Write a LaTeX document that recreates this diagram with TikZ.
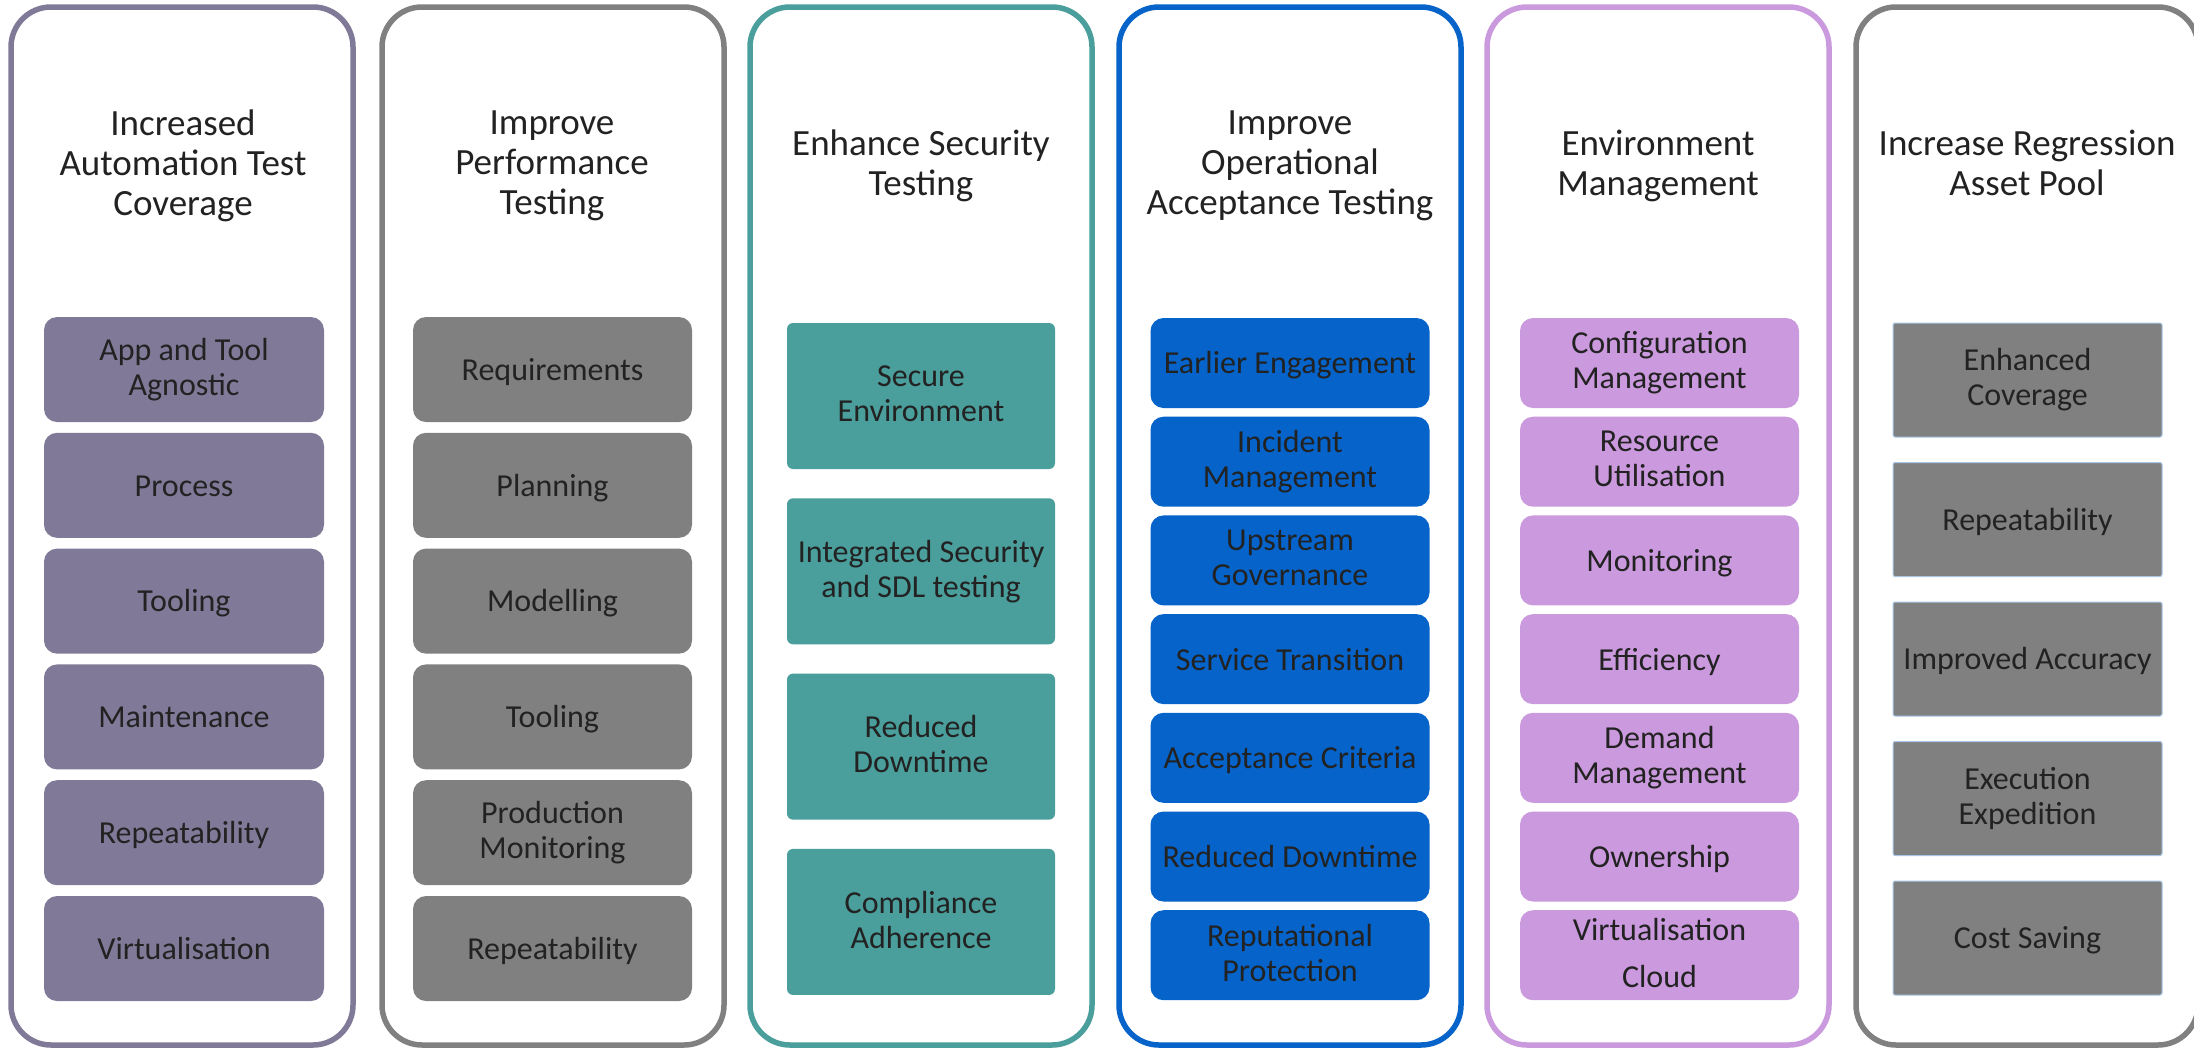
\documentclass[tikz,border=0pt]{standalone}
\usepackage{fontspec}
\setmainfont{Carlito}
\definecolor{cA}{HTML}{807A98}
\definecolor{cB}{HTML}{808080}
\definecolor{cC}{HTML}{4A9E9B}
\definecolor{cD}{HTML}{0563C9}
\definecolor{cE}{HTML}{CB99DD}
\definecolor{cF}{HTML}{808080}
\definecolor{edgeF}{HTML}{A9C8E8}
\definecolor{txt}{HTML}{222222}
\newcommand\topstrut{\rule{0pt}{27pt}}
\newcommand\botstrut{\rule[-5pt]{0pt}{5pt}}
\begin{document}
\begin{tikzpicture}[x=1pt,y=-1pt,
  column/.style={draw=#1, line width=5.5pt, rounded corners=40pt, minimum width=342pt, minimum height=1038pt, inner sep=0pt, outer sep=0pt},
  title/.style={font=\fontsize{37}{40}\selectfont, align=center, text=txt, inner sep=0pt, execute at begin node=\strut, execute at end node=\strut},
  item/.style={fill=#1, draw=none, font=\fontsize{32}{35}\selectfont, align=center, text=txt, inner sep=0pt, execute at begin node=\topstrut, execute at end node=\botstrut},
  itemA/.style={item=cA, rounded corners=13pt, minimum width=280pt, minimum height=105pt},
  itemB/.style={item=cB, rounded corners=13pt, minimum width=279pt, minimum height=105pt},
  itemC/.style={item=cC, rounded corners=6pt, minimum width=268pt, minimum height=146pt},
  itemD/.style={item=cD, rounded corners=13pt, minimum width=279pt, minimum height=90pt},
  itemE/.style={item=cE, rounded corners=13pt, minimum width=279pt, minimum height=90pt},
  itemF/.style={item=cF, draw=edgeF, line width=1pt, rounded corners=2pt, minimum width=269pt, minimum height=114pt},
]
\useasboundingbox (0,0) rectangle (2194,1050);
\fill[white] (0,0) rectangle (2194,1050);

% columns
\node[column=cA] (colA) at (182,526) {};
\node[column=cB] (colB) at (553,526) {};
\node[column=cC] (colC) at (921,526) {};
\node[column=cD] (colD) at (1290,526) {};
\node[column=cE] (colE) at (1658,526) {};
\node[column=cF] (colF) at (2027,526) {};

% titles
\node[title] (tA) at (183,169) {Increased\\Automation Test\\Coverage};
\node[title] (tB) at (552,169) {Improve\\Performance\\Testing};
\node[title] (tC) at (921,169) {Enhance Security\\Testing};
\node[title] (tD) at (1290,169) {Improve\\Operational\\Acceptance Testing};
\node[title] (tE) at (1658,169) {Environment\\Management};
\node[title] (tF) at (2027,169) {Increase Regression\\Asset Pool};

% column A
\foreach \t [count=\i from 0] in {{App and Tool\\Agnostic},Process,Tooling,Maintenance,Repeatability,Virtualisation}
  \node[itemA] (a\i) at (184,{369.5+115.8*\i}) {\t};
% column B
\foreach \t [count=\i from 0] in {Requirements,Planning,Modelling,Tooling,{Production\\Monitoring},Repeatability}
  \node[itemB] (b\i) at (552.5,{369.5+115.8*\i}) {\t};
% column C
\foreach \t [count=\i from 0] in {{Secure\\Environment},{Integrated Security\\and SDL testing},{Reduced\\Downtime},{Compliance\\Adherence}}
  \node[itemC] (c\i) at (921,{396+175.3*\i}) {\t};
% column D
\foreach \t [count=\i from 0] in {Earlier Engagement,{Incident\\Management},{Upstream\\Governance},Service Transition,Acceptance Criteria,Reduced Downtime,{Reputational\\Protection}}
  \node[itemD] (d\i) at (1290,{363+98.7*\i}) {\t};
% column E
\foreach \t [count=\i from 0] in {{Configuration\\Management},{Resource\\Utilisation},Monitoring,Efficiency,{Demand\\Management},Ownership,{Virtualisation\\[12pt]Cloud}}
  \node[itemE] (e\i) at (1659.5,{363+98.7*\i}) {\t};
% column F
\foreach \t [count=\i from 0] in {{Enhanced\\Coverage},Repeatability,Improved Accuracy,{Execution\\Expedition},Cost Saving}
  \node[itemF] (f\i) at (2027.5,{380+139.5*\i}) {\t};
\end{tikzpicture}
\end{document}
